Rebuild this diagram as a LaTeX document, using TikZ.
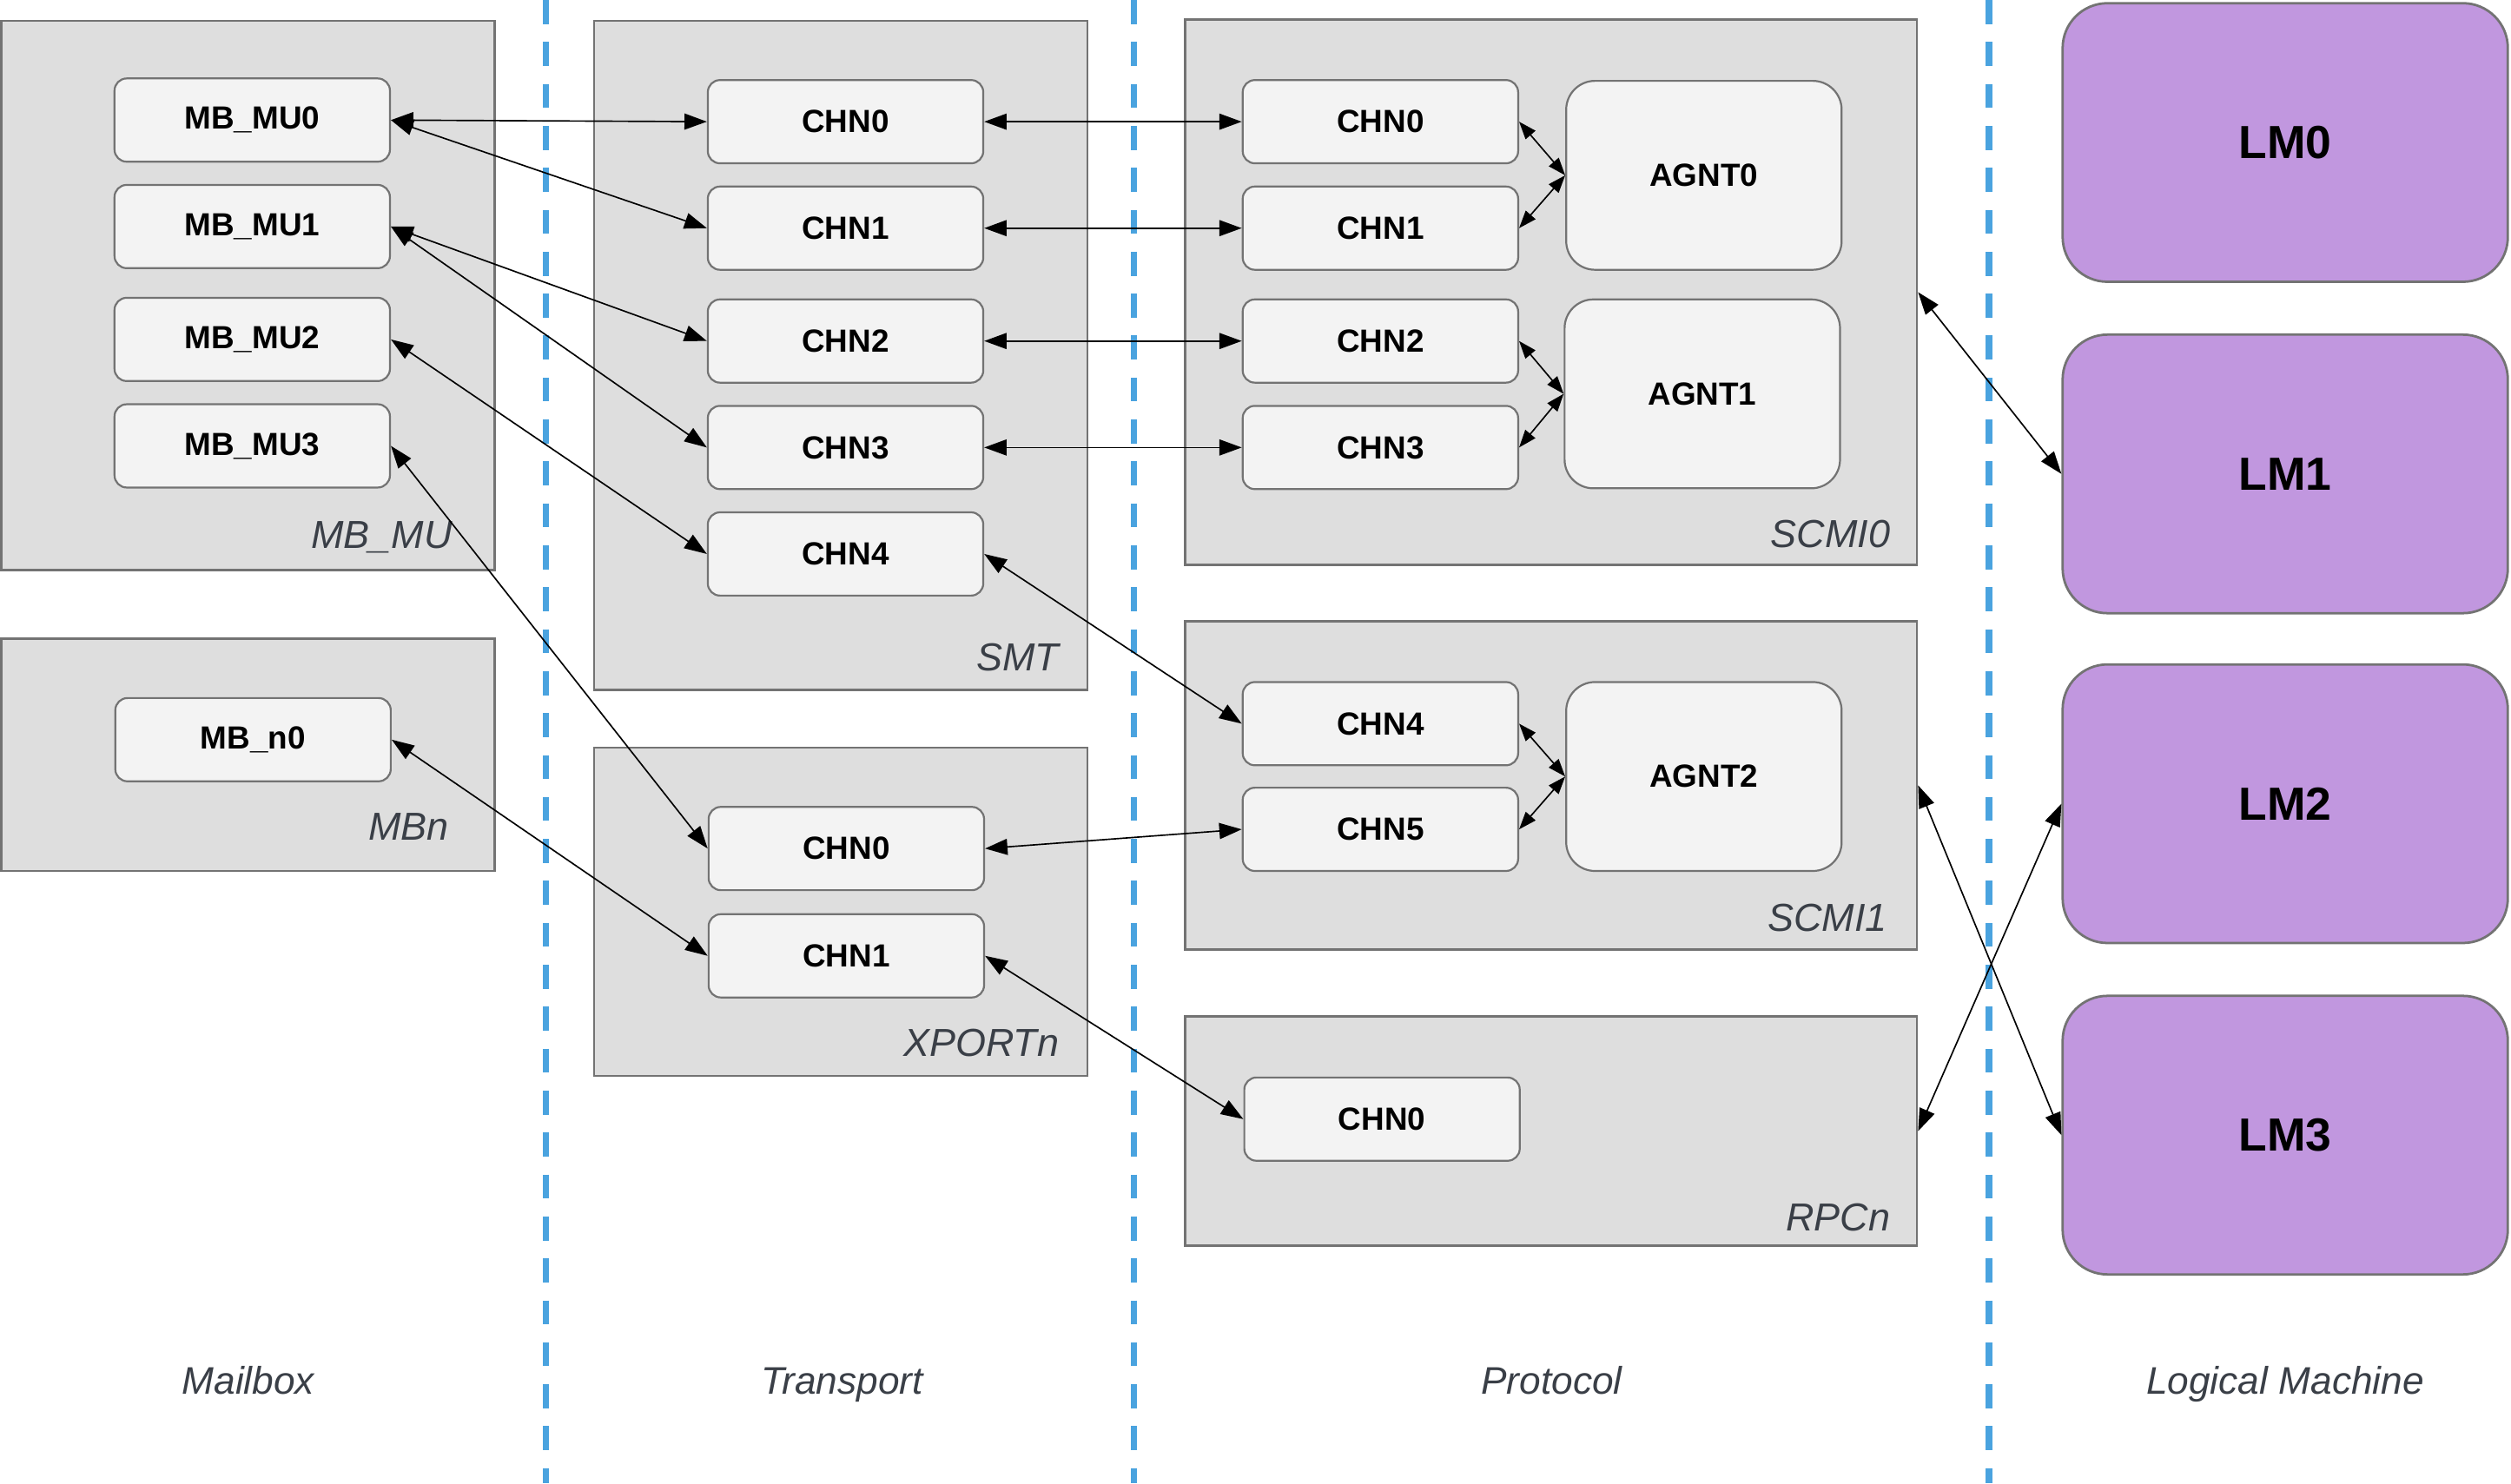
\documentclass[tikz,border=0pt]{standalone}
\usepackage{fontspec}
\setmainfont{Liberation Sans}
\usetikzlibrary{calc, positioning, arrows.meta}

\definecolor{boxgray}{HTML}{DEDEDE}
\definecolor{chipgray}{HTML}{F3F3F3}
\definecolor{edgegray}{HTML}{737373}
\definecolor{lmpurple}{HTML}{C197DF}
\definecolor{laneblue}{HTML}{4AA3DF}
\definecolor{taggray}{HTML}{3A3F47}

\tikzset{
    groupbox/.style={draw=edgegray, fill=boxgray, line width=0.75pt, inner sep=0pt},
    chn/.style={draw=edgegray, fill=chipgray, line width=0.6pt, rounded corners=3.8pt, minimum width=86pt, minimum height=26pt, inner sep=0pt, font=\bfseries\fontsize{10}{12}\selectfont},
    agnt/.style={chn, rounded corners=9pt, minimum height=59pt},
    lm/.style={draw=edgegray, fill=lmpurple, line width=0.75pt, rounded corners=14pt, minimum width=139pt, minimum height=87pt, inner sep=0pt, font=\bfseries\fontsize{14.5}{17}\selectfont},
    grouptag/.style={anchor=base east, text=taggray, inner sep=0pt, font=\itshape\fontsize{12.2}{14}\selectfont},
    coltitle/.style={anchor=base, text=taggray, inner sep=0pt, font=\itshape\fontsize{12}{14}\selectfont},
    lane/.style={draw=laneblue, line width=2pt, dash pattern=on 7.5pt off 5.6pt},
    link/.style={{Triangle[length=7pt,width=5pt]}-{Triangle[length=7pt,width=5pt]}, line width=0.45pt},
    shortlink/.style={{Triangle[length=5.5pt,width=4pt]}-{Triangle[length=5.5pt,width=4pt]}, line width=0.45pt},
}

\begin{document}
\begin{tikzpicture}[x=0.5pt, y=-0.5pt] % one unit = one pixel of the sketch, y grows downwards
    \useasboundingbox (0,0) rectangle (1568,926.4);

    % Add dashed lines between the layers
    \foreach \x in {341, 708, 1242} {
            \draw[lane] (\x,0) -- (\x,926.4);
        }

    % Add the group boxes
    \node[groupbox, minimum width=154pt, minimum height=171.5pt] (mbmu) at (155,184.5) {};
    \node[groupbox, minimum width=154pt, minimum height=72.5pt] (mbn) at (155,471.5) {};
    \node[groupbox, minimum width=154pt, minimum height=209pt] (smt) at (525,222) {};
    \node[groupbox, minimum width=154pt, minimum height=102.5pt] (xportn) at (525,569.5) {};
    \node[groupbox, minimum width=228.5pt, minimum height=170.5pt] (scmi0) at (968.5,182.5) {};
    \node[groupbox, minimum width=228.5pt, minimum height=102.5pt] (scmi1) at (968.5,490.5) {};
    \node[groupbox, minimum width=228.5pt, minimum height=71.5pt] (rpcn) at (968.5,706.5) {};

    % Add label in the bottom right corner of each group
    \foreach \g/\txt/\dx/\dy in {mbmu/MB\_MU/27/14, mbn/MBn/29/20, smt/SMT/18/13, xportn/XPORTn/18/13, scmi0/SCMI0/17/12, scmi1/SCMI1/19/12, rpcn/RPCn/17/10} {
            \node[grouptag] (\g tag) at ($(\g.south east)+(-\dx,-\dy)$) {\txt};
        }

    % Mailbox units
    \foreach \i/\y in {0/75, 1/141.5, 2/212, 3/278.5} {
            \node[chn] (mbmu\i) at (157.5,\y) {MB\_MU\i};
        }
    \node[chn] (mbn0) at (158,462) {MB\_n0};

    % Transport channels
    \foreach \i/\y in {0/76, 1/142.5, 2/213, 3/279.5, 4/346} {
            \node[chn] (smt\i) at (528,\y) {CHN\i};
        }
    \foreach \i/\y in {0/530, 1/597} {
            \node[chn] (xp\i) at (528.5,\y) {CHN\i};
        }

    % Protocol channels and agents
    \foreach \i/\y in {0/76, 1/142.5, 2/213, 3/279.5, 4/452, 5/518} {
            \node[chn] (sc\i) at (862,\y) {CHN\i};
        }
    \node[agnt] (agnt0) at (1064,109.5) {AGNT0};
    \node[agnt] (agnt1) at (1063,246) {AGNT1};
    \node[agnt] (agnt2) at (1064,485) {AGNT2};
    \node[chn] (rpc0) at (863,699) {CHN0};

    % Logical machines
    \foreach \i/\y in {0/89, 1/296, 2/502, 3/709} {
            \node[lm] (lm\i) at (1427,\y) {LM\i};
        }

    % Add the layer names under the columns
    \node[coltitle] (tmailbox) at (155,871) {Mailbox};
    \node[coltitle] (ttransport) at (526,871) {Transport};
    \node[coltitle] (tprotocol) at (969,871) {Protocol};
    \node[coltitle] (tlogical) at (1427,871) {Logical Machine};

    % add double arrows mailbox <-> transport
    \foreach \a/\b in {mbmu0/smt0, mbmu0/smt1, mbmu1/smt2, mbmu1/smt3, mbmu2/smt4, mbmu3/xp0, mbn0/xp1} {
            \draw[link] (\a.east) -- (\b.west);
        }

    % add double arrows transport <-> protocol
    \foreach \a/\b in {smt0/sc0, smt1/sc1, smt2/sc2, smt3/sc3, smt4/sc4, xp0/sc5, xp1/rpc0} {
            \draw[link] (\a.east) -- (\b.west);
        }

    % add double arrows channel <-> agent
    \foreach \a/\b in {sc0/agnt0, sc1/agnt0, sc2/agnt1, sc3/agnt1, sc4/agnt2, sc5/agnt2} {
            \draw[shortlink] (\a.east) -- (\b.west);
        }

    % add double arrows protocol <-> logical machine
    \draw[link] (scmi0.east) -- (lm1.west);
    \draw[link] (scmi1.east) -- (lm3.west);
    \draw[link] (rpcn.east) -- (lm2.west);

\end{tikzpicture}
\end{document}
